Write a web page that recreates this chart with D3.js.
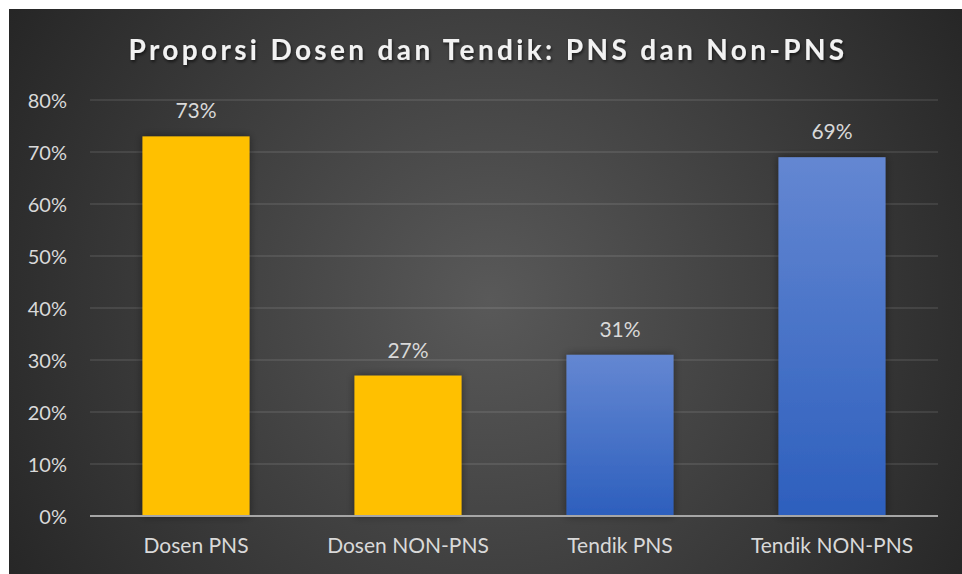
<!DOCTYPE html>
<html>
<head>
<meta charset="utf-8">
<script src="https://cdn.jsdelivr.net/npm/d3@7"></script>
<style>
html,body{margin:0;padding:0;background:#fff;}
svg{display:block;}
</style>
</head>
<body>
<script>
const categories = ["Dosen PNS", "Dosen NON-PNS", "Tendik PNS", "Tendik NON-PNS"];
const values = [0.73, 0.27, 0.31, 0.69];
const barKinds = ["gold", "gold", "blue", "blue"];
const yTicks = [0, 0.1, 0.2, 0.3, 0.4, 0.5, 0.6, 0.7, 0.8];
const title = "Proporsi Dosen dan Tendik: PNS dan Non-PNS";

const W = 962, H = 574;
const svg = d3.select("body").append("svg").attr("width", W).attr("height", H);
const defs = svg.append("defs");

const bg = defs.append("radialGradient").attr("id", "bg")
  .attr("gradientUnits", "userSpaceOnUse")
  .attr("cx", 490).attr("cy", 300).attr("r", 560);
bg.append("stop").attr("offset", "0%").attr("stop-color", "#595959");
bg.append("stop").attr("offset", "100%").attr("stop-color", "#262626");

const blue = defs.append("linearGradient").attr("id", "blue")
  .attr("x1", 0).attr("y1", 0).attr("x2", 0).attr("y2", 1);
blue.append("stop").attr("offset", "0%").attr("stop-color", "#6487d2");
blue.append("stop").attr("offset", "100%").attr("stop-color", "#2d5fbd");

const sh = defs.append("filter").attr("id", "sh").attr("x", "-20%").attr("y", "-20%").attr("width", "140%").attr("height", "140%");
sh.append("feDropShadow").attr("dx", 0).attr("dy", 0).attr("stdDeviation", 4)
  .attr("flood-color", "#000").attr("flood-opacity", 0.45);

const tsh = defs.append("filter").attr("id", "tsh").attr("x", "-10%").attr("y", "-30%").attr("width", "120%").attr("height", "160%");
tsh.append("feDropShadow").attr("dx", 1).attr("dy", 2).attr("stdDeviation", 1.5)
  .attr("flood-color", "#000").attr("flood-opacity", 0.6);

svg.append("rect").attr("x", 9).attr("y", 9).attr("width", W - 9).attr("height", H - 9)
  .attr("fill", "url(#bg)");

const font = "Lato, 'Open Sans', sans-serif";
const x = d3.scaleBand().domain(categories).range([90, 938]).paddingInner(0.495).paddingOuter(0.2475);
const y = d3.scaleLinear().domain([0, 0.8]).range([516, 100]);

// gridlines
const grid = svg.append("g");
grid.selectAll("line").data(yTicks.filter(d => d > 0)).join("line")
  .attr("x1", 90).attr("x2", 938)
  .attr("y1", d => y(d)).attr("y2", d => y(d))
  .attr("stroke", "#ffffff").attr("stroke-opacity", 0.12).attr("stroke-width", 1.3);

// y axis labels
const yAxis = d3.axisLeft(y).tickValues(yTicks).tickFormat(d3.format(".0%")).tickSize(0).tickPadding(0);
const ya = svg.append("g").attr("transform", "translate(67,0)").call(yAxis);
ya.select(".domain").remove();
ya.selectAll("text").attr("font-family", font).attr("font-size", 20).attr("fill", "#d9d9d9").attr("dy", "0.36em");

// bars
svg.append("g").selectAll("rect").data(values).join("rect")
  .attr("x", (d, i) => x(categories[i]))
  .attr("width", x.bandwidth())
  .attr("y", d => y(d))
  .attr("height", d => y(0) - y(d))
  .attr("fill", (d, i) => barKinds[i] === "gold" ? "#ffc000" : "url(#blue)")
  .attr("filter", "url(#sh)");

// baseline
svg.append("line").attr("x1", 90).attr("x2", 938).attr("y1", y(0)).attr("y2", y(0))
  .attr("stroke", "#a6a6a6").attr("stroke-width", 2.2);

// value labels
svg.append("g").selectAll("text").data(values).join("text")
  .attr("x", (d, i) => x(categories[i]) + x.bandwidth() / 2)
  .attr("y", d => y(d) - 18)
  .attr("text-anchor", "middle")
  .attr("font-family", font).attr("font-size", 21).attr("fill", "#d9d9d9")
  .text(d => d3.format(".0%")(d));

// x axis labels
const xAxis = d3.axisBottom(x).tickSize(0).tickPadding(0);
const xa = svg.append("g").attr("transform", "translate(0,553)").call(xAxis);
xa.select(".domain").remove();
xa.selectAll("text").attr("font-family", font).attr("font-size", 21).attr("fill", "#d9d9d9").attr("dy", 0);

// title
svg.append("text").attr("x", 488).attr("y", 60).attr("text-anchor", "middle")
  .attr("font-family", font).attr("font-size", 28).attr("font-weight", "bold")
  .attr("letter-spacing", 3.35).attr("fill", "#f2f2f2").attr("filter", "url(#tsh)")
  .text(title);
</script>
</body>
</html>
